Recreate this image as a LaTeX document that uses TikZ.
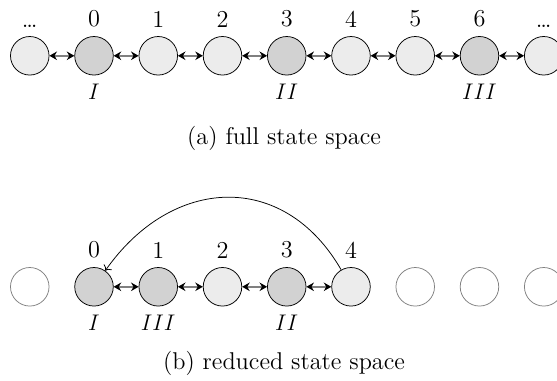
\documentclass[tikz,border=0pt]{standalone}
\usepackage{amsmath,amssymb}
\usepackage{xcolor}
\usepackage{tikz}
\usetikzlibrary{arrows.meta, positioning, calc}

\begin{document}
\begin{tikzpicture}[
    every node/.style={font=\fontsize{12.9}{15}\selectfont},
    state/.style={draw, circle, minimum size=0.72cm, inner sep=0pt, fill=gray!15},
    marked/.style={state, fill=gray!35},
    unused/.style={draw=gray, circle, minimum size=0.72cm, inner sep=0pt},
    link/.style={draw=gray, thick, {Stealth[black, length=4pt, width=4.5pt]}-{Stealth[black, length=4pt, width=4.5pt]}},
    label distance=0.04cm
]
    \useasboundingbox (-1.756, 1.042) rectangle (8.648, -6.074);

    % Full state space
    \node[state]  (t9) at (-1.2, 0) [label=above:\dots] {};
    \node[marked] (t0) at (0, 0)   [label=above:0, label=below:$I$] {};
    \node[state]  (t1) at (1.2, 0) [label=above:1] {};
    \node[state]  (t2) at (2.4, 0) [label=above:2] {};
    \node[marked] (t3) at (3.6, 0) [label=above:3, label=below:$II$] {};
    \node[state]  (t4) at (4.8, 0) [label=above:4] {};
    \node[state]  (t5) at (6.0, 0) [label=above:5] {};
    \node[marked] (t6) at (7.2, 0) [label=above:6, label=below:$III$] {};
    \node[state]  (t7) at (8.4, 0) [label=above:\dots] {};

    \draw[link] (t9) -- (t0);
    \draw[link] (t0) -- (t1);
    \draw[link] (t1) -- (t2);
    \draw[link] (t2) -- (t3);
    \draw[link] (t3) -- (t4);
    \draw[link] (t4) -- (t5);
    \draw[link] (t5) -- (t6);
    \draw[link] (t6) -- (t7);

    \node (capA) at (3.55, -1.55) {(a) full state space};

    % Reduced state space
    \node[unused] (b9) at (-1.2, -4.315) {};
    \node[marked] (b0) at (0, -4.315)   [label=above:0, label=below:$I$] {};
    \node[marked] (b1) at (1.2, -4.315) [label=above:1, label=below:$III$] {};
    \node[state]  (b2) at (2.4, -4.315) [label=above:2] {};
    \node[marked] (b3) at (3.6, -4.315) [label=above:3, label=below:$II$] {};
    \node[state]  (b4) at (4.8, -4.315) [label=above:4] {};
    \node[unused] (b5) at (6.0, -4.315) {};
    \node[unused] (b6) at (7.2, -4.315) {};
    \node[unused] (b7) at (8.4, -4.315) {};

    \draw[link] (b0) -- (b1);
    \draw[link] (b1) -- (b2);
    \draw[link] (b2) -- (b3);
    \draw[link] (b3) -- (b4);
    \draw[-{To}] (b4) to[out=120, in=55, looseness=1.25] (b0);

    \node (capB) at (3.55, -5.75) {(b) reduced state space};
\end{tikzpicture}
\end{document}
